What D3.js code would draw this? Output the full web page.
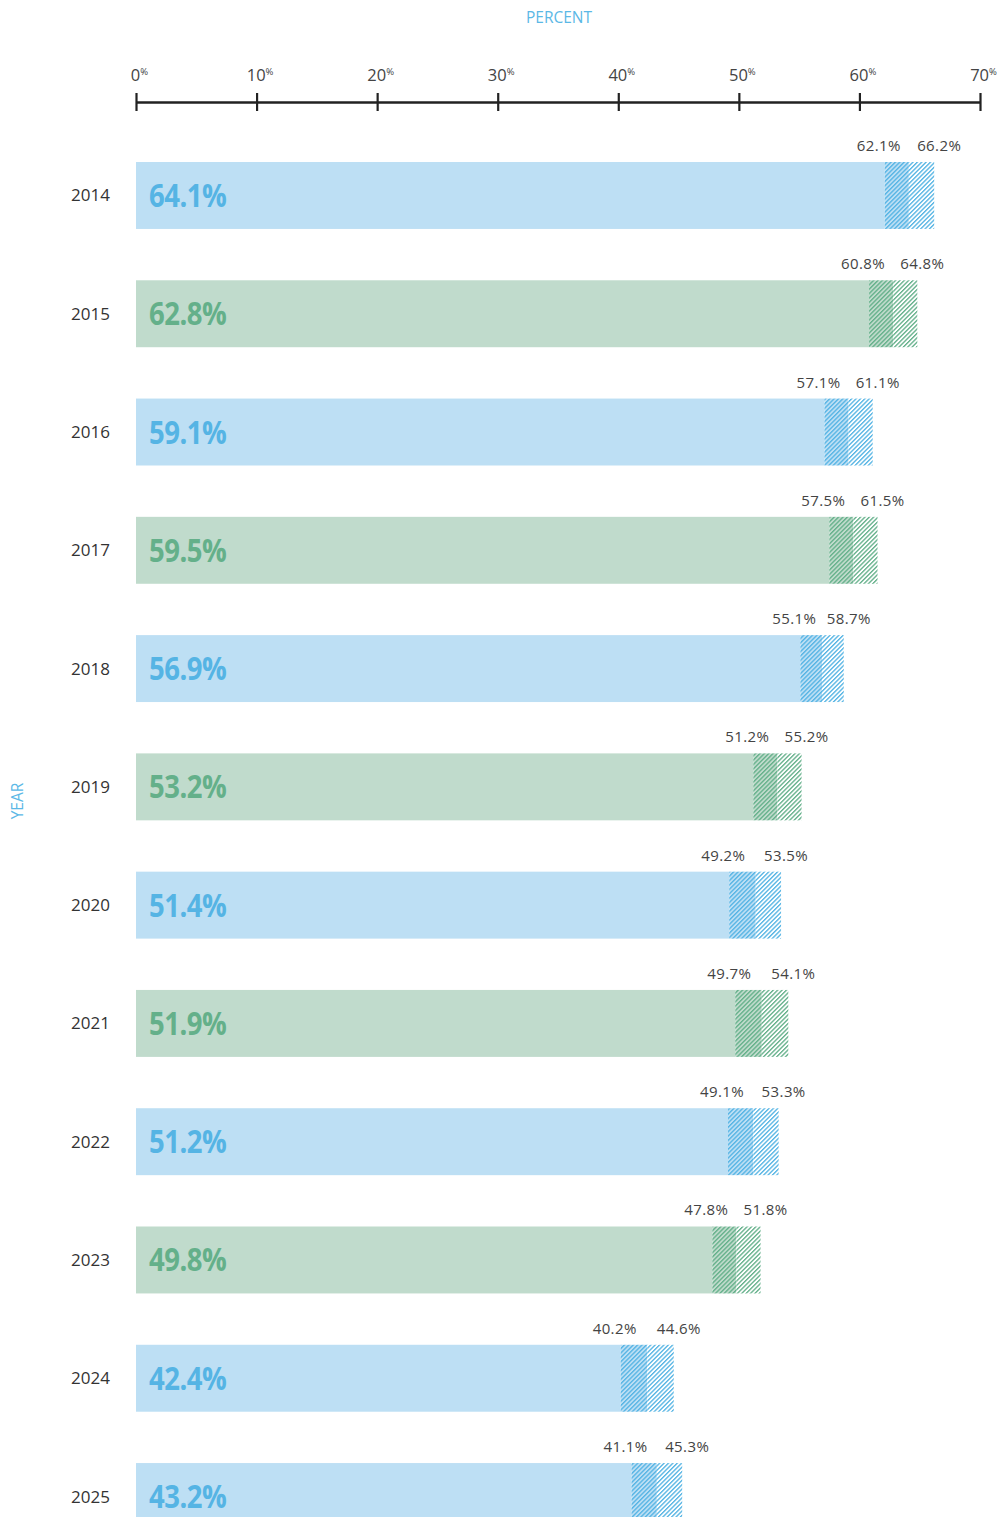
<!DOCTYPE html>
<html><head><meta charset="utf-8">
<script src="https://cdn.jsdelivr.net/npm/d3@7"></script>
<style>body{margin:0;background:#fff}svg{display:block}</style>
</head><body>
<script>
const years = ["2014","2015","2016","2017","2018","2019","2020","2021","2022","2023","2024","2025"];
const values = [64.1, 62.8, 59.1, 59.5, 56.9, 53.2, 51.4, 51.9, 51.2, 49.8, 42.4, 43.2];
const lower  = [62.1, 60.8, 57.1, 57.5, 55.1, 51.2, 49.2, 49.7, 49.1, 47.8, 40.2, 41.1];
const upper  = [66.2, 64.8, 61.1, 61.5, 58.7, 55.2, 53.5, 54.1, 53.3, 51.8, 44.6, 45.3];
const colourKey = ["b","g","b","g","b","g","b","g","b","g","b","b"];
const tickValues = [0, 10, 20, 30, 40, 50, 60, 70];

const W = 997, H = 1517;
const font = "'Open Sans', 'Noto Sans', sans-serif";
const pal = {
  b: {fill: "#bddff4", dark: "#55b4e4"},
  g: {fill: "#c0dbcc", dark: "#64b08a"}
};

const svg = d3.select("body").append("svg").attr("width", W).attr("height", H);
const defs = svg.append("defs");
const PW = 3.1;
Object.entries(pal).forEach(([id, p]) => {
  [["on", p.fill], ["off", "#fff"]].forEach(([k, bg]) => {
    const pat = defs.append("pattern").attr("id", "h" + id + k)
      .attr("patternUnits", "userSpaceOnUse").attr("width", PW).attr("height", PW)
      .attr("patternTransform", "rotate(45)");
    pat.append("rect").attr("width", PW).attr("height", PW).attr("fill", bg);
    pat.append("rect").attr("x", 0).attr("y", 0).attr("width", 1.35).attr("height", PW)
      .attr("fill", p.dark);
  });
});

const x = d3.scaleLinear().domain([0, 70]).range([136, 980]);
const y = d3.scaleBand().domain(years).range([162, 1530]).paddingInner(0.434).paddingOuter(0);

// titles
svg.append("text").attr("x", 559).attr("y", 23).attr("text-anchor", "middle")
  .attr("font-family", font).attr("font-size", 15.5).attr("fill", "#5bb8e6").text("PERCENT");
svg.append("text").attr("transform", "translate(23,801) rotate(-90)").attr("text-anchor", "middle")
  .attr("font-family", font).attr("font-size", 15.5).attr("fill", "#5bb8e6").text("YEAR");

// axis
const ax = svg.append("g").attr("transform", "translate(0,102)")
  .call(d3.axisTop(x).tickValues(tickValues).tickSizeOuter(0).tickSizeInner(9).tickPadding(12).tickFormat(d => d));
ax.select(".domain").attr("stroke", "#222").attr("stroke-width", 2.4);
ax.selectAll(".tick line").attr("y1", 9).attr("y2", -9).attr("stroke", "#222").attr("stroke-width", 2.2);
ax.selectAll(".tick text").each(function(d) {
  const t = d3.select(this);
  t.text(null).attr("font-family", font).attr("fill", "#444").attr("font-size", 16.5)
    .attr("text-anchor", "middle").attr("dx", 3);
  t.append("tspan").text(d);
  t.append("tspan").attr("font-size", 9.5).attr("dy", -6).text("%");
});

// bars
const g = svg.append("g");
years.forEach((yr, i) => {
  const p = pal[colourKey[i]], k = colourKey[i];
  const top = y(yr), bh = y.bandwidth();
  g.append("rect").attr("x", x(0)).attr("y", top).attr("width", x(lower[i]) - x(0)).attr("height", bh).attr("fill", p.fill);
  g.append("rect").attr("x", x(lower[i])).attr("y", top).attr("width", x(values[i]) - x(lower[i])).attr("height", bh).attr("fill", `url(#h${k}on)`);
  g.append("rect").attr("x", x(values[i])).attr("y", top).attr("width", x(upper[i]) - x(values[i])).attr("height", bh).attr("fill", `url(#h${k}off)`);
  // year label
  g.append("text").attr("x", 110).attr("y", top + bh / 2 + 6).attr("text-anchor", "end")
    .attr("font-family", font).attr("font-size", 17).attr("fill", "#333").text(yr);
  // value label
  g.append("text").attr("transform", `translate(149,${top + bh / 2 + 11.5}) scale(0.86,1)`)
    .attr("font-family", font).attr("font-size", 32).attr("font-weight", 700).attr("letter-spacing", -0.6)
    .attr("fill", p.dark).text(values[i].toFixed(1) + "%");
  // range labels
  g.append("text").attr("x", x(lower[i]) - 6).attr("y", top - 11).attr("text-anchor", "middle")
    .attr("font-family", font).attr("font-size", 15).attr("fill", "#444").attr("letter-spacing", 0.4)
    .text(lower[i].toFixed(1) + "%");
  g.append("text").attr("x", x(upper[i]) + 5).attr("y", top - 11).attr("text-anchor", "middle")
    .attr("font-family", font).attr("font-size", 15).attr("fill", "#444").attr("letter-spacing", 0.4)
    .text(upper[i].toFixed(1) + "%");
});
</script>
</body></html>
